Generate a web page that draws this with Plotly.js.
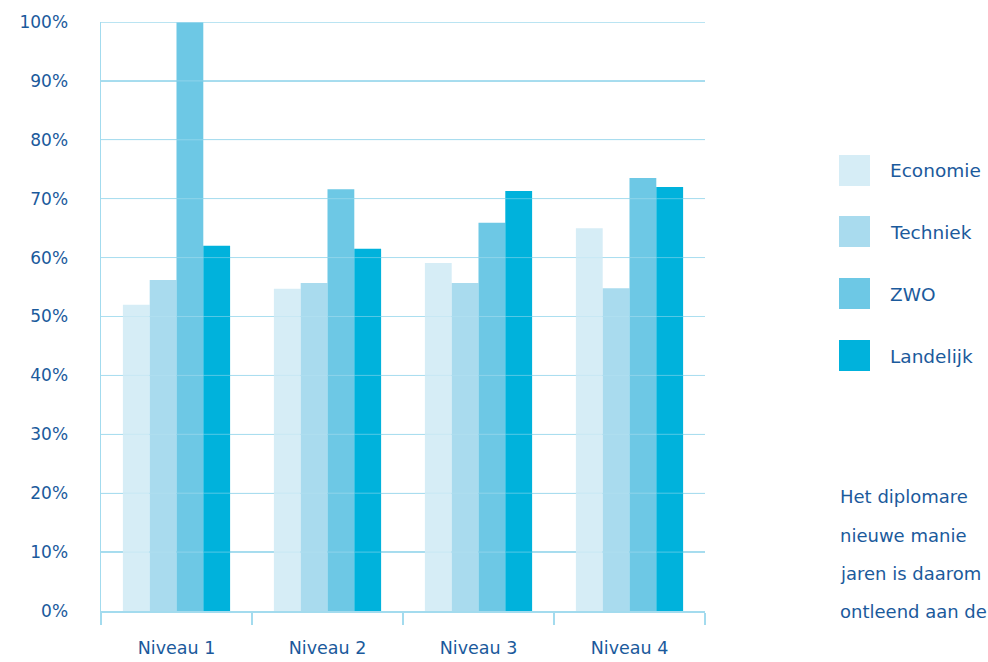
<!DOCTYPE html>
<html>
<head>
<meta charset="utf-8">
<script src="https://cdn.plot.ly/plotly-3.0.1.min.js"></script>
<style>
html,body{margin:0;padding:0;background:#fff;overflow:hidden;}
#chart{width:988px;height:662px;}
</style>
</head>
<body>
<div id="chart"></div>
<script>
var categories = ["Niveau 1", "Niveau 2", "Niveau 3", "Niveau 4"];
var seriesNames = ["Economie", "Techniek", "ZWO", "Landelijk"];
var economie = [52.0, 54.7, 59.1, 65.0];
var techniek = [56.2, 55.7, 55.7, 54.8];
var zwo = [100, 71.6, 65.9, 73.5];
var landelijk = [62.0, 61.5, 71.3, 72.0];
var yTickVals = [0, 10, 20, 30, 40, 50, 60, 70, 80, 90, 100];
var yTickText = ["0%", "10%", "20%", "30%", "40%", "50%", "60%", "70%", "80%", "90%", "100%"];
var bodyLines = ["Het diplomare", "nieuwe manie", "jaren is daarom", "ontleend aan de"];

var colors = ["#d6edf6", "#a9dbee", "#6dc8e5", "#00b2dc"];
var values = [economie, techniek, zwo, landelijk];
var textColor = "#1b5a9c";
var gridColor = "#a3dbee";
var fontFam = "'DejaVu Sans', 'Open Sans', sans-serif";

var traces = values.map(function(v, i) {
  return {type: "bar", x: categories, y: v, name: seriesNames[i],
          marker: {color: colors[i], line: {width: 0}}, hoverinfo: "skip"};
});

var W = 988, H = 662;
var shapes = [], annotations = [];
var ml = 101, mr = 283, mt = 22, mb = 51;
var pw = W - ml - mr, ph = H - mt - mb;
function px2x(px) { return (px - ml) / pw; }
function py2y(py) { return (H - mb - py) / ph; }

var topTick = yTickVals[yTickVals.length - 1];
// faint grid lines drawn over the bars, as in the reference
yTickVals.slice(1, -1).forEach(function(t) {
  shapes.push({type: "line", xref: "paper", yref: "y", x0: 0, x1: 1, y0: t, y1: t,
    layer: "above", line: {color: "#b8e4f3", width: 1}, opacity: 0.45});
});
shapes.push({type: "line", xref: "paper", yref: "y", x0: 0, x1: 1, y0: topTick, y1: topTick,
  layer: "above", line: {color: gridColor, width: 1.5}});

var legTop = [155, 216, 278, 340];
seriesNames.forEach(function(n, i) {
  shapes.push({type: "rect", xref: "paper", yref: "paper",
    x0: px2x(839), x1: px2x(870), y0: py2y(legTop[i] + 31), y1: py2y(legTop[i]),
    fillcolor: colors[i], line: {width: 0}});
  annotations.push({xref: "paper", yref: "paper", x: px2x(888), y: py2y(legTop[i] + 16),
    xanchor: "left", yanchor: "middle", showarrow: false, text: n,
    font: {family: fontFam, size: 18.5, color: textColor}});
});
var bodyY = [496, 535, 573, 611];
bodyLines.forEach(function(t, i) {
  annotations.push({xref: "paper", yref: "paper", x: px2x(838), y: py2y(bodyY[i]),
    xanchor: "left", yanchor: "middle", showarrow: false, text: t,
    font: {family: fontFam, size: 18, color: textColor}});
});

var layout = {
  width: W, height: H,
  margin: {l: ml, r: mr, t: mt, b: mb, pad: 0},
  paper_bgcolor: "#fff", plot_bgcolor: "#fff",
  barmode: "group", bargap: 0.29, bargroupgap: 0,
  showlegend: false,
  font: {family: fontFam, color: textColor, size: 17},
  xaxis: {
    type: "category", tickson: "boundaries", ticks: "outside", ticklen: 12,
    tickcolor: gridColor, tickwidth: 1.5, showline: true, linecolor: gridColor, linewidth: 2,
    showgrid: false, ticklabelstandoff: 20,
    tickfont: {family: fontFam, size: 17.5, color: textColor}, fixedrange: true
  },
  yaxis: {
    range: [0, 100], tickvals: yTickVals, ticktext: yTickText,
    showgrid: true, gridcolor: gridColor, gridwidth: 1.2, zeroline: false,
    showline: true, linecolor: gridColor, linewidth: 1.5, ticks: "",
    ticklabelstandoff: 28,
    tickfont: {family: fontFam, size: 17, color: textColor}, fixedrange: true
  },
  shapes: shapes, annotations: annotations
};

Plotly.newPlot("chart", traces, layout, {displayModeBar: false, staticPlot: true});
</script>
</body>
</html>
